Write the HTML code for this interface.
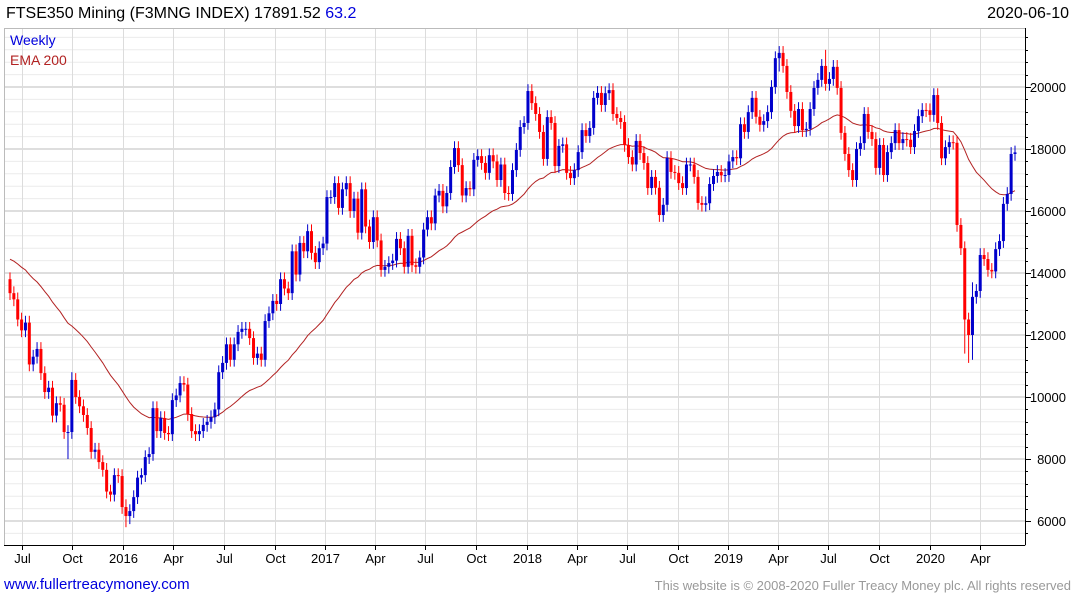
<!DOCTYPE html>
<html><head><meta charset="utf-8">
<style>
body{margin:0;background:#fff;font-family:"Liberation Sans",sans-serif;}
#wrap{position:relative;width:1075px;height:600px;overflow:hidden;}
.t{position:absolute;white-space:nowrap;}
</style></head>
<body>
<div id="wrap">
<div class="t" style="left:6px;top:5px;font-size:16px;color:#000">FTSE350 Mining (F3MNG INDEX) 17891.52 <span style="color:#0000dd">63.2</span></div>
<div class="t" style="right:6px;top:5px;font-size:16px;color:#000">2020-06-10</div>
<svg id="chart" width="1075" height="600" style="position:absolute;left:0;top:0;z-index:0"></svg>
<div class="t" style="left:10px;top:32px;font-size:14px;color:#0000dd;z-index:2">Weekly</div>
<div class="t" style="left:10px;top:52px;font-size:14px;color:#b22222;z-index:2">EMA 200</div>
<div class="t" style="left:4px;top:576px;font-size:15px;color:#0000dd">www.fullertreacymoney.com</div>
<div class="t" style="right:4px;top:578px;font-size:13px;color:#999">This website is © 2008-2020 Fuller Treacy Money plc. All rights reserved</div>
</div>
<script>
const closes=[13350,13150,12500,12150,12400,11050,11300,11550,10770,10160,10300,9400,9800,9750,8870,8870,10550,10000,9700,9420,9000,8230,8300,7900,7650,6950,6850,7480,7450,6450,6160,6320,6770,7400,7480,8060,8160,9640,8900,9320,8840,8800,9900,10050,10450,10400,9450,8900,8800,8900,9100,9200,9350,9600,10800,11100,11700,
11200,11700,12100,12200,12200,11900,11260,11400,11200,12450,12700,13100,13000,13800,13500,13350,14700,13950,14970,14700,15350,14650,14350,14800,14950,16450,16450,16900,16100,16700,16900,16000,16400,15300,16700,15500,15000,15800,15050,14100,14200,14320,14400,15100,14800,14200,15200,14250,14200,14500,15400,15800,15600,16500,16650,
16150,16580,17420,18030,17480,16500,16740,16700,17650,17770,17550,17230,17800,17600,17000,17500,16580,16550,17320,17970,18710,18840,19870,19480,19130,18550,17680,19030,18840,17450,18100,18150,17230,17060,17320,17900,18610,18420,18680,19650,19810,19420,19800,19900,19130,19000,18870,18130,17740,17500,18260,17870,17550,16740,17100,16750,15870,16200,17710,17260,17230,16900,16740,17500,17500,17100,16260,16200,16250,16870,17130,
17260,17150,17160,17600,17740,17700,18800,18550,19190,19650,19040,18780,18900,19190,20000,20930,21100,20680,19840,19230,18740,19290,18610,18650,19290,19970,20230,20680,20100,20260,20650,19970,18520,17840,17320,17000,18000,18190,19130,18550,18320,17390,18130,17160,17900,18190,18610,18190,18320,18300,18060,18580,19060,19260,19250,19100,19740,18840,17700,18060,18220,18200,15550,14800,12500,12000,13230,13420,14580,14450,14100,14050,14770,15030,16230,16550,17840,17890];
const firstOpen=13800;
const wickSpikes={15:[9000,8000],30:[6700,5800],31:[6500,5900],16:[10800,8900],199:[21300,20500],211:[21200,20000],247:[14900,11400],248:[12400,11100],249:[13700,11200]};
const emaSeed=14500;
const yTicks=[6000,8000,10000,12000,14000,16000,18000,20000];
const xTickLabels=["Jul","Oct","2016","Apr","Jul","Oct","2017","Apr","Jul","Oct","2018","Apr","Jul","Oct","2019","Apr","Jul","Oct","2020","Apr"];
const xTickDates=["2015-07-01","2015-10-01","2016-01-01","2016-04-01","2016-07-01","2016-10-01","2017-01-01","2017-04-01","2017-07-01","2017-10-01","2018-01-01","2018-04-01","2018-07-01","2018-10-01","2019-01-01","2019-04-01","2019-07-01","2019-10-01","2020-01-01","2020-04-01"];

const NS="http://www.w3.org/2000/svg";
const svg=document.getElementById('chart');
const L=4,R=1025,T=28,B=545;
const n=closes.length;
const step=(1015-10)/(n-1);
function xScale(i){return 10+i*step;}
function yScale(v){return 87+(20000-v)*0.031;}
const t0=Date.parse("2015-06-10");
function xDate(s){return xScale((Date.parse(s)-t0)/(7*864e5));}
function mk(tag,attrs){const e=document.createElementNS(NS,tag);for(const k in attrs)e.setAttribute(k,attrs[k]);svg.appendChild(e);return e;}

for(let v=5600;v<=21600;v+=400){const y=yScale(v);if(y<T||y>B)continue;
 const g=mk('line',{x1:L,x2:R,y1:y,y2:y,stroke:(v%2000===0)?'#bdbdbd':'#ebebeb','stroke-width':1});
 
 }
xTickDates.forEach((d,k)=>{const x=Math.round(xDate(d))+0.5;
 const g=mk('line',{x1:x,x2:x,y1:T,y2:B,stroke:'#dcdcdc','stroke-width':1});
 
 
 const tk=mk('line',{x1:x,x2:x,y1:B,y2:B+5,stroke:'#000'});
 
 
 const tx=mk('text',{x:x,y:563,'font-size':13,'text-anchor':'middle',fill:'#000','font-family':'Liberation Sans, sans-serif'});
 tx.textContent=xTickLabels[k];
 
 });
const fr=mk('rect',{x:L+0.5,y:T+0.5,width:R-L,height:B-T,fill:'none',stroke:'#bbb'});


const ax=mk('line',{x1:R+0.5,x2:R+0.5,y1:T,y2:B,stroke:'#000'});


const bx=mk('line',{x1:L,x2:R,y1:B+0.5,y2:B+0.5,stroke:'#000'});


for(let v=5600;v<=21600;v+=400){const y=Math.round(yScale(v))+0.5;if(y<T||y>B)continue;
 const tk=mk('line',{x1:R,x2:R+(v%2000===0?6:3),y1:y,y2:y,stroke:'#000'});
 
 }
yTicks.forEach(v=>{const tx=mk('text',{x:1066,y:yScale(v)+5,'font-size':13,'text-anchor':'end',fill:'#000','font-family':'Liberation Sans, sans-serif'});
 tx.textContent=v;
 
 });
let ema=emaSeed;const a=2/41;let pts=[];
for(let i=0;i<n;i++){ema=ema+a*(closes[i]-ema);pts.push(xScale(i).toFixed(1)+','+yScale(ema).toFixed(1));}
const el=mk('polyline',{points:pts.join(' '),fill:'none',stroke:'#b22222','stroke-width':1});


for(let i=0;i<n;i++){
 const o=i===0?firstOpen:closes[i-1],c=closes[i];
 let hi=Math.max(o,c)+220,lo=Math.min(o,c)-220;
 if(wickSpikes[i]){hi=Math.max(hi,wickSpikes[i][0]);lo=Math.min(lo,wickSpikes[i][1]);}
 const col=c>=o?'#0000cc':'#ff0000';const x=xScale(i);
 const w=mk('line',{x1:x,x2:x,y1:yScale(hi),y2:yScale(lo),stroke:col,'stroke-width':1});
 
 
 const y1=yScale(Math.max(o,c)),y2=yScale(Math.min(o,c));
 const r=mk('rect',{x:x-1.5,y:y1,width:3,height:Math.max(1,y2-y1),fill:col});
 
 
}
</script>
</body></html>
